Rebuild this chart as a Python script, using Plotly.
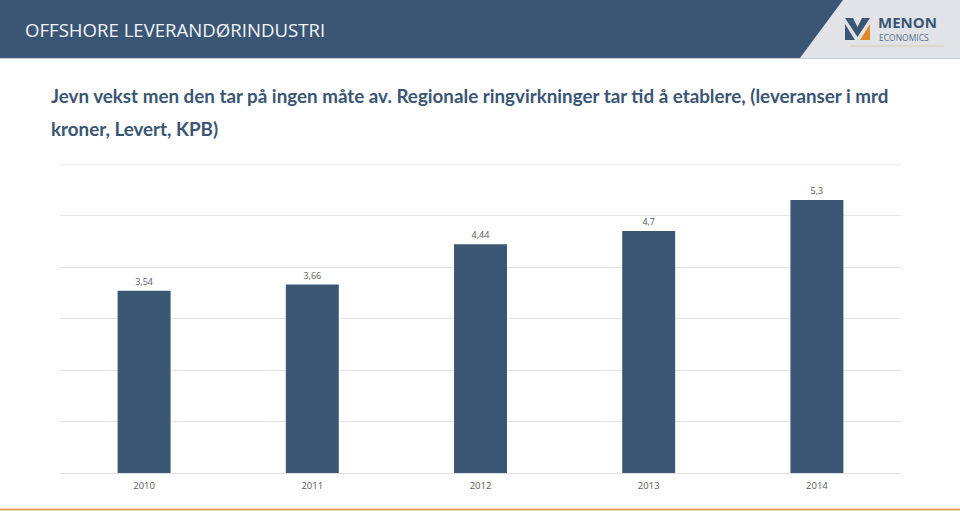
import plotly.graph_objects as go

years = ["2010", "2011", "2012", "2013", "2014"]
values = [3.54, 3.66, 4.44, 4.7, 5.3]
labels = [str(v).replace(".", ",") for v in values]

header_text = "OFFSHORE LEVERANDØRINDUSTRI"
title_line1 = "Jevn vekst men den tar på ingen måte av. Regionale ringvirkninger tar tid å etablere, (leveranser i mrd"
title_line2 = "kroner, Levert, KPB)"

W, H = 960, 511
L, R, T, B = 60, 59, 164, 38
PW = W - L - R
PH = H - T - B

def px(x):
    return (x - L) / PW

def py(y):
    return (H - B - y) / PH

NAVY = "#3b5775"
TITLE_FONT = "Lato, sans-serif"

fig = go.Figure()
fig.add_trace(go.Bar(
    x=years, y=values, text=labels, textposition="outside",
    textfont=dict(size=9, color="#595959", family="Open Sans"),
    marker=dict(color=NAVY, line=dict(width=0)),
    cliponaxis=False,
))

shapes = []
shapes.append(dict(type="rect", xref="paper", yref="paper", x0=px(0), x1=px(960), y0=py(58), y1=py(0),
                   fillcolor="#3a5674", line=dict(width=0), layer="below"))
shapes.append(dict(type="path", xref="paper", yref="paper",
                   path=f"M {px(843)},{py(0)} L {px(960)},{py(0)} L {px(960)},{py(58)} L {px(800)},{py(58)} Z",
                   fillcolor="#e1e3e6", line=dict(width=0), layer="below"))
shapes.append(dict(type="line", xref="paper", yref="paper", x0=px(0), x1=px(960), y0=py(58.5), y1=py(58.5),
                   line=dict(color="#c9cdd2", width=1)))
shapes.append(dict(type="path", xref="paper", yref="paper",
                   path=(f"M {px(845)},{py(18)} L {px(853)},{py(18)} L {px(857.5)},{py(27)} L {px(862)},{py(18)} "
                         f"L {px(870)},{py(18)} L {px(857.5)},{py(37)} Z"),
                   fillcolor="#3a5674", line=dict(width=0)))
shapes.append(dict(type="path", xref="paper", yref="paper",
                   path=f"M {px(845)},{py(24)} L {px(845)},{py(40)} L {px(855)},{py(40)} Z",
                   fillcolor="#3a5674", line=dict(width=0)))
shapes.append(dict(type="path", xref="paper", yref="paper",
                   path=f"M {px(870)},{py(24)} L {px(870)},{py(40)} L {px(860)},{py(40)} Z",
                   fillcolor="#e08a2c", line=dict(width=0)))
shapes.append(dict(type="line", xref="paper", yref="paper", x0=px(850), x1=px(944), y0=py(46), y1=py(46),
                   line=dict(color="#d9c9b0", width=1)))
shapes.append(dict(type="line", xref="paper", yref="paper", x0=px(0), x1=px(960), y0=py(509.5), y1=py(509.5),
                   line=dict(color="#e3a25e", width=2)))
# top gridline at the axis maximum
shapes.append(dict(type="line", xref="paper", yref="y", x0=0, x1=1, y0=6, y1=6,
                   line=dict(color="#e4e4e4", width=1), layer="below"))

annotations = [
    dict(text=header_text, xref="paper", yref="paper", x=px(23), y=py(29), xanchor="left", yanchor="middle",
         showarrow=False, font=dict(family="Open Sans", size=18.6, color="#f2f4f7")),
    dict(text="<b>MENON</b>", xref="paper", yref="paper", x=px(876), y=py(22), xanchor="left", yanchor="middle",
         showarrow=False, font=dict(family="Open Sans", size=15, color="#3a5674")),
    dict(text="ECONOMICS", xref="paper", yref="paper", x=px(877), y=py(38), xanchor="left", yanchor="middle",
         showarrow=False, font=dict(family="Open Sans", size=8.5, color="#5b7088")),
    dict(text="<b>" + title_line1 + "</b>", xref="paper", yref="paper", x=px(49), y=py(96), xanchor="left",
         yanchor="middle", showarrow=False, font=dict(family=TITLE_FONT, size=18.8, color="#3a5674")),
    dict(text="<b>" + title_line2 + "</b>", xref="paper", yref="paper", x=px(49), y=py(128), xanchor="left",
         yanchor="middle", showarrow=False, font=dict(family=TITLE_FONT, size=18.8, color="#3a5674")),
]

fig.update_layout(
    width=W, height=H,
    margin=dict(l=L, r=R, t=T, b=B),
    paper_bgcolor="white", plot_bgcolor="white",
    bargap=0.685,
    showlegend=False,
    shapes=shapes,
    annotations=annotations,
    xaxis=dict(showgrid=False, showline=False, ticks="outside", ticklen=4, tickcolor="rgba(0,0,0,0)",
               tickfont=dict(size=9.5, color="#595959", family="Open Sans")),
    yaxis=dict(range=[0, 6], dtick=1, showticklabels=False, showgrid=True, gridcolor="#e4e4e4", gridwidth=1,
               zeroline=True, zerolinecolor="#e0e0e0", zerolinewidth=1, showline=False),
)

fig.write_html("out.html")
